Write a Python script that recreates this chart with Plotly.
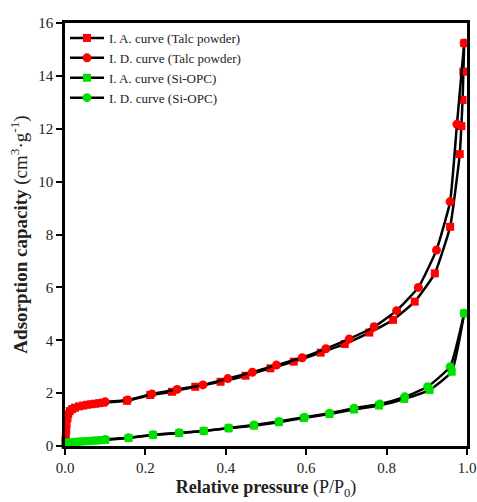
import plotly.graph_objects as go

# Talc powder - adsorption (I. A.)
talc_ads_x = [0.001, 0.002, 0.003, 0.004, 0.006, 0.008, 0.012, 0.018, 0.025, 0.035, 0.045, 0.055,
              0.065, 0.075, 0.085, 0.095, 0.154, 0.212, 0.266, 0.324, 0.387, 0.449, 0.511, 0.569,
              0.636, 0.696, 0.757, 0.816, 0.870, 0.920, 0.958, 0.982, 0.986, 0.989, 0.991, 0.993]
talc_ads_y = [0.2, 0.4, 0.6, 0.85, 1.05, 1.2, 1.32, 1.4, 1.45, 1.5, 1.53, 1.56,
              1.58, 1.6, 1.62, 1.64, 1.71, 1.93, 2.05, 2.24, 2.43, 2.66, 2.94, 3.19,
              3.53, 3.86, 4.29, 4.77, 5.46, 6.53, 8.29, 11.04, 12.1, 13.09, 14.16, 15.24]
# Talc powder - desorption (I. D.)
talc_des_x = [0.993, 0.975, 0.958, 0.924, 0.879, 0.825, 0.769, 0.707, 0.649, 0.590, 0.526, 0.466,
              0.405, 0.343, 0.279, 0.216, 0.156, 0.10]
talc_des_y = [15.24, 12.17, 9.24, 7.41, 6.0, 5.12, 4.51, 4.05, 3.68, 3.34, 3.06, 2.79,
              2.55, 2.31, 2.14, 1.97, 1.74, 1.67]
# Si-OPC - adsorption
si_ads_x = [0.001, 0.003, 0.006, 0.01, 0.015, 0.02, 0.03, 0.04, 0.05, 0.06, 0.07, 0.08, 0.09, 0.1,
            0.158, 0.219, 0.284, 0.345, 0.407, 0.47, 0.532, 0.594, 0.658, 0.719, 0.781, 0.844,
            0.907, 0.962, 0.993]
si_ads_y = [0.06, 0.09, 0.11, 0.13, 0.14, 0.15, 0.16, 0.17, 0.18, 0.19, 0.2, 0.21, 0.22, 0.23,
            0.30, 0.42, 0.49, 0.57, 0.67, 0.77, 0.90, 1.06, 1.21, 1.38, 1.53, 1.78,
            2.12, 2.81, 5.02]
# Si-OPC - desorption
si_des_x = [0.993, 0.958, 0.902, 0.845, 0.783, 0.719, 0.658, 0.596, 0.532, 0.47, 0.407, 0.345,
            0.284, 0.219, 0.158, 0.10]
si_des_y = [5.02, 3.0, 2.24, 1.86, 1.59, 1.43, 1.24, 1.09, 0.93, 0.79, 0.68, 0.57,
            0.50, 0.43, 0.31, 0.25]

names = ["I. A. curve (Talc powder)", "I. D. curve (Talc powder)",
         "I. A. curve (Si-OPC)", "I. D. curve (Si-OPC)"]

FONT = "Liberation Serif"

fig = go.Figure()
series = [
    (talc_ads_x, talc_ads_y, names[0], "#ff0000", "square", 8),
    (talc_des_x, talc_des_y, names[1], "#ff0000", "circle", 9),
    (si_ads_x, si_ads_y, names[2], "#00e000", "square", 8),
    (si_des_x, si_des_y, names[3], "#00e000", "circle", 9),
]
for x, y, n, c, sym, sz in series:
    fig.add_trace(go.Scatter(
        x=x, y=y, name=n, mode="lines+markers",
        line=dict(color="black", width=2.5, shape="spline", smoothing=0.4),
        marker=dict(color=c, symbol=sym, size=sz, line=dict(width=0)),
        cliponaxis=False,
    ))

fig.update_layout(
    width=477, height=502,
    margin=dict(l=65, r=10, t=23, b=56),
    paper_bgcolor="white", plot_bgcolor="white",
    font=dict(family=FONT, color="#222", size=14),
    showlegend=True,
    legend=dict(x=0.0, y=1.0, xanchor="left", yanchor="top",
                bgcolor="rgba(0,0,0,0)", font=dict(family=FONT, size=13, color="#222"),
                tracegroupgap=0, itemwidth=34, traceorder="normal"),
    xaxis=dict(range=[0, 1.0], dtick=0.2, tickformat=".1f", showgrid=False, zeroline=False,
               showline=True, linecolor="black", linewidth=2.5, mirror=True,
               ticks="outside", ticklen=6, tickwidth=2, tickcolor="black",
               tickfont=dict(family=FONT, size=15), automargin=False,
               title=dict(text="<b>Relative pressure</b> (P/P<sub>0</sub>)",
                          font=dict(family=FONT, size=18), standoff=6)),
    yaxis=dict(range=[0, 16], dtick=2, showgrid=False, zeroline=False,
               showline=True, linecolor="black", linewidth=2.5, mirror=True,
               ticks="outside", ticklen=6, tickwidth=2, tickcolor="black",
               tickfont=dict(family=FONT, size=15), automargin=False,
               title=dict(text="<b>Adsorption capacity</b> (cm<sup>3</sup>·g<sup>-1</sup>)",
                          font=dict(family=FONT, size=19), standoff=6)),
)

fig.write_html("out.html")
